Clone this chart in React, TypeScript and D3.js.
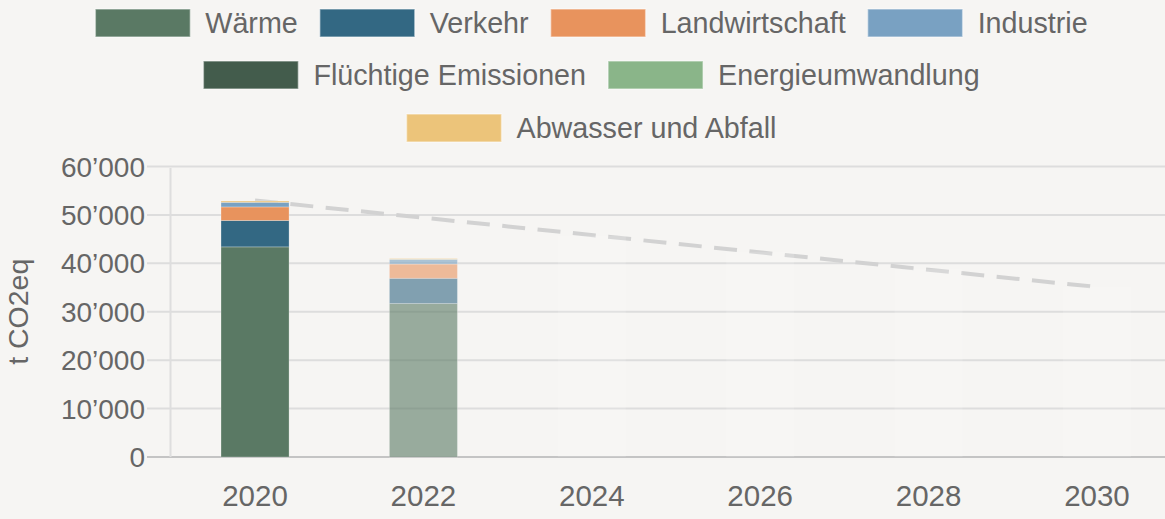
import React, { useEffect, useRef } from "react";
import * as d3 from "d3";

const years = ["2020", "2022", "2024", "2026", "2028", "2030"];
const sectors = [
  "Wärme",
  "Verkehr",
  "Landwirtschaft",
  "Industrie",
  "Flüchtige Emissionen",
  "Energieumwandlung",
  "Abwasser und Abfall",
];
const sectorColors = ["#5a7964", "#336883", "#e8935d", "#79a1c2", "#435c4c", "#8ab589", "#ecc47a"];

// values per sector for the measured years
const values2020 = [43400, 5450, 2800, 950, 0, 0, 280];
const values2022 = [31700, 5200, 2950, 970, 0, 0, 200];

// faint projection bars
const projectionYears = ["2024", "2026", "2028", "2030"];
const projectionValues = [45700, 42300, 38800, 35100];

// dashed target path
const targetYears = ["2020", "2030"];
const targetValues = [53000, 35100];

const yTicks = [0, 10000, 20000, 30000, 40000, 50000, 60000];
const yTickLabels = ["0", "10’000", "20’000", "30’000", "40’000", "50’000", "60’000"];

const legendRows = [
  ["Wärme", "Verkehr", "Landwirtschaft", "Industrie"],
  ["Flüchtige Emissionen", "Energieumwandlung"],
  ["Abwasser und Abfall"],
];

const W = 1165;
const H = 519;
const FONT = "'Liberation Sans', Arial, sans-serif";
const TEXT = "#666666";
const BG = "#f6f5f3";

export default function App() {
  const ref = useRef<SVGSVGElement | null>(null);

  useEffect(() => {
    document.body.style.margin = "0";
    document.body.style.background = BG;
    const svg = d3.select(ref.current);
    svg.selectAll("*").remove();

    svg.append("rect").attr("width", W).attr("height", H).attr("fill", BG);

    const x = d3.scaleBand<string>().domain(years).range([170, 1182]).paddingInner(0.596).paddingOuter(0.303);
    const y = d3.scaleLinear().domain([0, 60000]).range([457, 166.5]);
    const cx = (yr: string) => (x(yr) as number) + x.bandwidth() / 2;

    // gridlines
    const g = svg.append("g");
    g.selectAll("line.grid")
      .data(yTicks)
      .join("line")
      .attr("x1", 147)
      .attr("x2", W)
      .attr("y1", (d) => y(d))
      .attr("y2", (d) => y(d))
      .attr("stroke", (d) => (d === 0 ? "#c4c4c4" : "#dddddd"))
      .attr("stroke-width", 2);
    g.append("line")
      .attr("x1", 170.5)
      .attr("x2", 170.5)
      .attr("y1", y(60000) + 1.5)
      .attr("y2", y(0))
      .attr("stroke", "#dedede")
      .attr("stroke-width", 2);

    // y tick labels
    svg.append("g")
      .selectAll("text")
      .data(yTicks)
      .join("text")
      .attr("x", 145)
      .attr("y", (d) => y(d))
      .attr("dy", "0.36em")
      .attr("text-anchor", "end")
      .attr("font-family", FONT)
      .attr("font-size", 28)
      .attr("fill", TEXT)
      .text((d, i) => yTickLabels[i]);

    // y title
    svg.append("text")
      .attr("transform", `translate(28, ${(y(0) + y(60000)) / 2}) rotate(-90)`)
      .attr("text-anchor", "middle")
      .attr("font-family", FONT)
      .attr("font-size", 28.5)
      .attr("fill", TEXT)
      .text("t CO2eq");

    // x labels
    svg.append("g")
      .selectAll("text")
      .data(years)
      .join("text")
      .attr("x", (d) => cx(d))
      .attr("y", 506)
      .attr("text-anchor", "middle")
      .attr("font-family", FONT)
      .attr("font-size", 29.5)
      .attr("fill", TEXT)
      .text((d) => d);

    // target dashed line
    const line = d3
      .line<number>()
      .x((d, i) => cx(targetYears[i]))
      .y((d) => y(d));
    svg.append("path")
      .attr("d", line(targetValues))
      .attr("fill", "none")
      .attr("stroke", "#d2d2d2")
      .attr("stroke-width", 4)
      .attr("stroke-dasharray", "23 12.5");

    // stacked bars
    const drawStack = (yr: string, vals: number[], opacity: number) => {
      let acc = 0;
      const segs = vals.map((v, i) => {
        const s = { y0: acc, y1: acc + v, i };
        acc += v;
        return s;
      });
      svg.append("g")
        .selectAll("rect")
        .data(segs.filter((s) => s.y1 > s.y0))
        .join("rect")
        .attr("x", x(yr) as number)
        .attr("width", x.bandwidth())
        .attr("y", (s) => y(s.y1))
        .attr("height", (s) => y(s.y0) - y(s.y1))
        .attr("fill", (s) => sectorColors[s.i])
        .attr("fill-opacity", opacity)
        .attr("stroke", "#ffffff")
        .attr("stroke-opacity", 0.25)
        .attr("stroke-width", 1);
    };
    drawStack("2020", values2020, 1);
    drawStack("2022", values2022, 0.6);

    // faint projection bars
    svg.append("g")
      .selectAll("rect")
      .data(projectionValues)
      .join("rect")
      .attr("x", (d, i) => x(projectionYears[i]) as number)
      .attr("width", x.bandwidth())
      .attr("y", (d) => y(d))
      .attr("height", (d) => y(0) - y(d))
      .attr("fill", "#ffffff")
      .attr("fill-opacity", 0.14);

    // legend
    const colorOf = (name: string) => sectorColors[sectors.indexOf(name)];
    const rowY = [23, 75, 128];
    const centerX = 591.5;
    const swW = 95;
    const swH = 28;
    const gapText = 15;
    const gapItem = 22;
    legendRows.forEach((row, r) => {
      const lg = svg.append("g");
      const items = row.map((name) => {
        const t = lg
          .append("text")
          .attr("font-family", FONT)
          .attr("font-size", 28.7)
          .attr("fill", TEXT)
          .attr("y", rowY[r])
          .attr("dy", "0.36em")
          .text(name);
        const w = (t.node() as SVGTextElement).getComputedTextLength();
        return { name, t, w };
      });
      const total = items.reduce((s, it) => s + swW + gapText + it.w, 0) + gapItem * (items.length - 1);
      let px = centerX - total / 2;
      items.forEach((it) => {
        lg.append("rect")
          .attr("x", px)
          .attr("y", rowY[r] - swH / 2)
          .attr("width", swW)
          .attr("height", swH)
          .attr("fill", colorOf(it.name))
          .attr("stroke", "#ffffff")
          .attr("stroke-opacity", 0.45)
          .attr("stroke-width", 1.5);
        it.t.attr("x", px + swW + gapText);
        px += swW + gapText + it.w + gapItem;
      });
    });
  }, []);

  return (
    <svg
      ref={ref}
      width={W}
      height={H}
      style={{ position: "fixed", left: 0, top: 0, display: "block" }}
    />
  );
}
